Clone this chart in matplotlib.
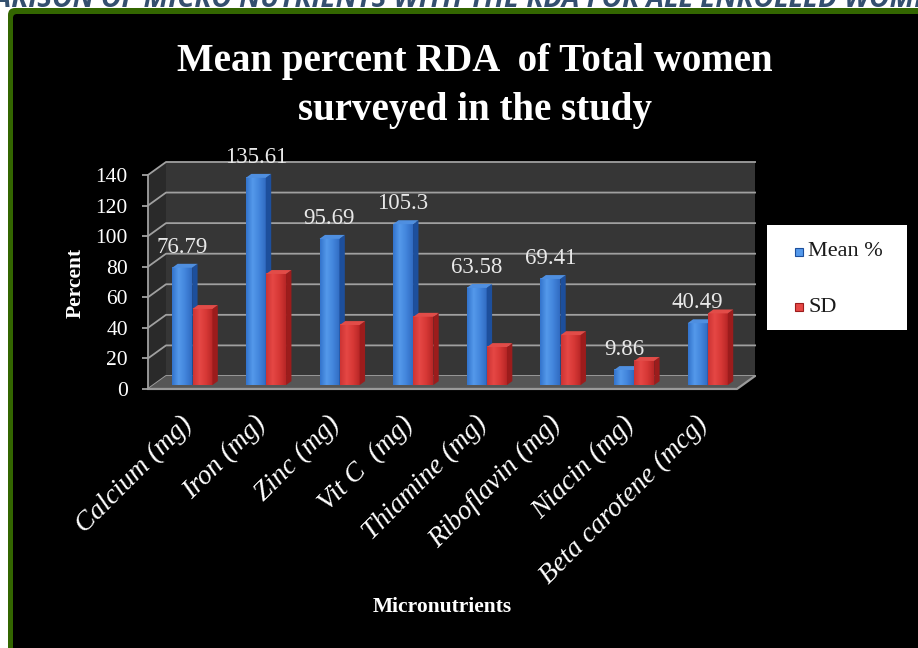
import numpy as np
import matplotlib
matplotlib.use("Agg")
import matplotlib.pyplot as plt
from matplotlib.patches import Polygon, Rectangle, FancyBboxPatch

plt.rcParams["font.family"] = ["Liberation Serif", "DejaVu Serif"]

# ---- data -------------------------------------------------------------
nutrients = ["Calcium (mg)", "Iron (mg)", "Zinc (mg)", "Vit C  (mg)",
             "Thiamine (mg)", "Riboflavin (mg)", "Niacin (mg)",
             "Beta carotene (mcg)"]
mean_pct = [76.79, 135.61, 95.69, 105.3, 63.58, 69.41, 9.86, 40.49]
sd_vals = [49.8, 72.7, 39.3, 44.7, 24.9, 32.7, 15.8, 46.9]
series_names = ["Mean %", "SD"]
y_ticks = [0, 20, 40, 60, 80, 100, 120, 140]

# ---- figure / frame ---------------------------------------------------
W, H = 918, 648
fig = plt.figure(figsize=(W / 100, H / 100), dpi=100, facecolor="white")

bg = fig.add_axes([0, 0, 1, 1])
bg.set_xlim(0, W)
bg.set_ylim(H, 0)
bg.axis("off")
bg.add_patch(FancyBboxPatch((8, 8), 980, 720,
                            boxstyle="round,pad=0,rounding_size=7",
                            fc="#336600", ec="none"))
bg.add_patch(FancyBboxPatch((13, 14), 980, 720,
                            boxstyle="round,pad=0,rounding_size=4",
                            fc="black", ec="none"))
# slide heading running past the top edge of the page
bg.text(434, 7, "COMPARISON OF MICRO NUTRIENTS WITH THE RDA FOR ALL ENROLLED WOMEN",
        ha="center", va="baseline", fontsize=20.2, fontweight="bold",
        fontstyle="italic", family=["Open Sans", "DejaVu Sans"],
        color="#34506f", clip_on=False)

# ---- 3-D style chart --------------------------------------------------
ax = fig.add_axes([103.8 / W, 1 - 407.3 / H, 677.4 / W, 247.6 / H])
ax.set_xlim(-0.6, 8.6)
ax.set_ylim(-12, 150)
ax.patch.set_visible(False)

n = len(nutrients)
ymax = y_ticks[-1]
DX, DY = 0.245, 8.5          # depth of the walls (data units)
grid_c = "#a0a0a0"

# side wall, back wall and floor
ax.add_patch(Polygon([(0, 0), (0, ymax), (DX, ymax + DY), (DX, DY)],
                     closed=True, fc="#2a2a2a", ec="none", zorder=0))
ax.add_patch(Polygon([(DX, DY), (n + DX, DY), (n + DX, ymax + DY), (DX, ymax + DY)],
                     closed=True, fc="#363636", ec="none", zorder=0))
ax.add_patch(Polygon([(0, 0), (n, 0), (n + DX, DY), (DX, DY)],
                     closed=True, fc="#565656", ec="none", zorder=1))
ax.plot([0, n, n + DX], [0, 0, DY], color="#9a9a9a", lw=1.6, zorder=1.5,
        solid_capstyle="butt")

for v in y_ticks:
    ax.plot([0, DX, n + DX], [v, v + DY, v + DY], color=grid_c, lw=1.3,
            zorder=0.5)

# front value axis
ax.spines[["top", "right", "bottom"]].set_visible(False)
ax.spines["left"].set_position(("data", 0))
ax.spines["left"].set_bounds(0, ymax)
ax.spines["left"].set_color(grid_c)
ax.spines["left"].set_linewidth(1.3)
ax.set_yticks(y_ticks)
ax.tick_params(axis="y", direction="out", length=4.5, width=1.3,
               color=grid_c, pad=10, labelsize=15.5, labelcolor="white")

# bars
t = 0.3                       # bar depth as a fraction of wall depth
f0 = 0.3                      # depth position of the bar front
bw = 0.27
offsets = [0.33, 0.605]
styles = [
    dict(grad=[(0.20, 0.45, 0.80), (0.33, 0.60, 0.92), (0.26, 0.52, 0.86), (0.19, 0.42, 0.76)],
         side="#1d4f9c", top="#4f8fe0"),
    dict(grad=[(0.80, 0.20, 0.20), (0.90, 0.28, 0.27), (0.84, 0.22, 0.21), (0.72, 0.15, 0.15)],
         side="#9c1c1c", top="#e24c48"),
]
base = f0 * DY
for s, (vals, st) in enumerate(zip([mean_pct, sd_vals], styles)):
    cols = np.array(st["grad"])
    xs = np.linspace(0, 1, cols.shape[0])
    xx = np.linspace(0, 1, 64)
    img = np.stack([np.interp(xx, xs, cols[:, k]) for k in range(3)], axis=-1)[None, :, :]
    for i, v in enumerate(vals):
        x0 = i + offsets[s]
        x1 = x0 + bw
        ax.imshow(img, extent=[x0, x1, base, base + v], aspect="auto",
                  interpolation="bilinear", zorder=2 + s * 0.1)
        ax.add_patch(Polygon([(x1, base), (x1 + t * DX, base + t * DY),
                              (x1 + t * DX, base + v + t * DY), (x1, base + v)],
                             closed=True, fc=st["side"], ec="none", zorder=2 + s * 0.1))
        ax.add_patch(Polygon([(x0, base + v), (x1, base + v),
                              (x1 + t * DX, base + v + t * DY), (x0 + t * DX, base + v + t * DY)],
                             closed=True, fc=st["top"], ec="none", zorder=2 + s * 0.1))

# value labels over the mean bars
for i, v in enumerate(mean_pct):
    ax.text(i + offsets[0] + bw / 2, base + v + 13.5, f"{v:g}",
            ha="center", va="center", fontsize=16.5, color="#e8e8e8",
            clip_on=False, zorder=5)

ax.set_xlim(-0.6, 8.6)
ax.set_ylim(-12, 150)

# category labels
ax.set_xticks(np.arange(n) + 0.43)
ax.set_xticklabels(nutrients, rotation=45, ha="right", rotation_mode="anchor",
                   fontstyle="italic", fontsize=20, color="white")
ax.tick_params(axis="x", length=0, pad=3)

ax.set_ylabel("Percent", fontsize=15.5, fontweight="bold", color="white")
ax.yaxis.set_label_coords((86 - 103.8) / 677.4, (407.3 - 283) / 247.6)

fig.text(442 / W, 1 - 607 / H, "Micronutrients", ha="center", va="center",
         fontsize=15.5, fontweight="bold", color="white")

fig.text(475 / W, 1 - 86 / H, "Mean percent RDA  of Total women\nsurveyed in the study",
         ha="center", va="center", fontsize=28, fontweight="bold",
         color="white", linespacing=1.4)

# legend box
bg.add_patch(Rectangle((767, 225), 140, 105, fc="white", ec="none", zorder=5))
for k, (name, st) in enumerate(zip(series_names, styles)):
    yc = 252 + k * 55
    bg.add_patch(Rectangle((795, yc - 4), 8, 8, fc=st["grad"][1], ec=st["side"],
                           lw=0.8, zorder=6))
    bg.text(808, yc, name, ha="left", va="center", fontsize=16,
            color="#1a1a1a", zorder=6)

fig.savefig("out.png", dpi=100, facecolor=fig.get_facecolor())
